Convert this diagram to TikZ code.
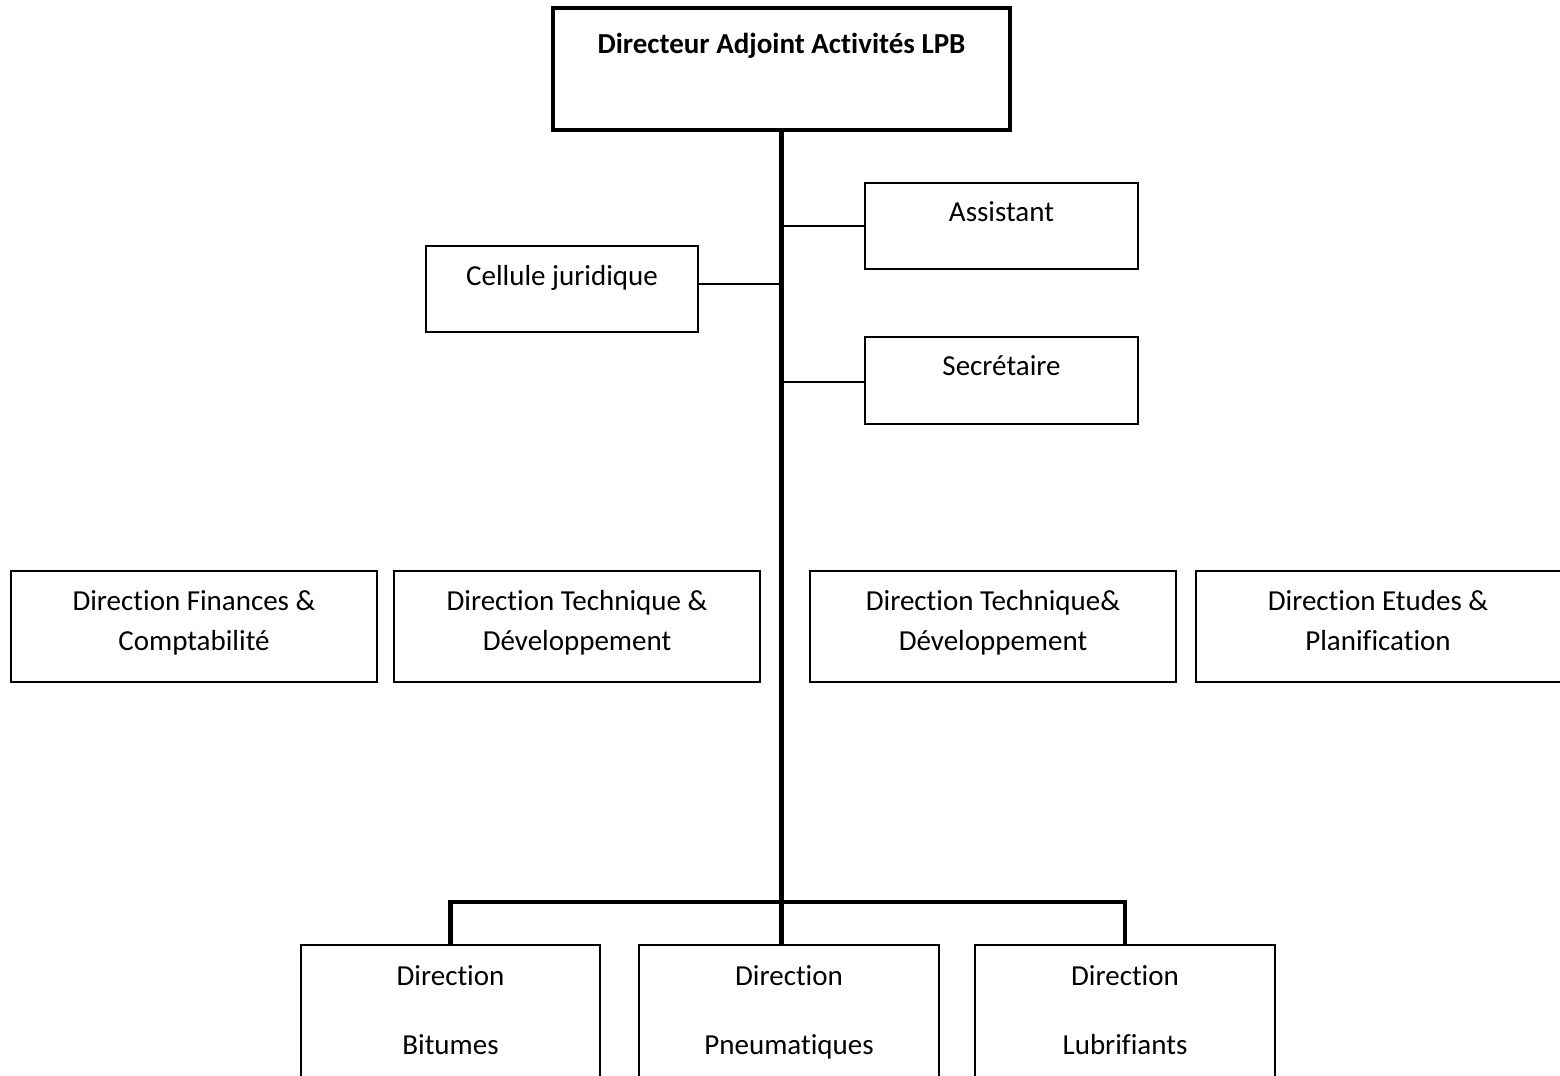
\documentclass[tikz,border=0pt]{standalone}
\usepackage{fontspec}
\setmainfont{Carlito}[Ligatures=NoCommon]
\usetikzlibrary{fit}
\begin{document}
\begin{tikzpicture}[x=0.02cm,y=-0.02cm,
  box/.style={draw, line width=1.1pt, inner sep=0pt, rectangle},
  headbox/.style={draw, line width=2.3pt, inner sep=0pt, rectangle},
  lbl/.style={inner sep=0pt, anchor=base, font=\fontsize{16.5}{20}\selectfont},
  headlbl/.style={inner sep=0pt, anchor=base, font=\fontsize{16.5}{20}\selectfont\bfseries},
  conn/.style={line width=1.1pt},
  trunk/.style={line width=2.3pt, line join=miter}]
\useasboundingbox (0,0) rectangle (1560,1076);
\clip (0,0) rectangle (1560,1076);
% head of the organisation
\node[headbox, fit={(553,8) (1010,130)}] (top) {};
\node[headlbl] (topT) at (top.north |- 0,53) {Directeur Adjoint Activités LPB};
% staff functions
\node[box, fit={(865,183) (1138,269)}] (asst) {};
\node[lbl] (asstT) at (asst.north |- 0,221) {Assistant};
\node[box, fit={(426,246) (698,332)}] (cel) {};
\node[lbl] (celT) at (cel.north |- 0,285) {Cellule juridique};
\node[box, fit={(865,337) (1138,424)}] (sec) {};
\node[lbl] (secT) at (sec.north |- 0,375) {Secrétaire};
% support directions
\node[box, fit={(11,571) (377,682)}] (fin) {};
\node[lbl] (finA) at (fin.north |- 0,610) {Direction Finances \&};
\node[lbl] (finB) at (fin.north |- 0,650) {Comptabilité};
\node[box, fit={(394,571) (760,682)}] (tec) {};
\node[lbl] (tecA) at (tec.north |- 0,610) {Direction Technique \&};
\node[lbl] (tecB) at (tec.north |- 0,650) {Développement};
\node[box, fit={(810,571) (1176,682)}] (tecd) {};
\node[lbl] (tecdA) at (tecd.north |- 0,610) {Direction Technique\&};
\node[lbl] (tecdB) at (tecd.north |- 0,650) {Développement};
\node[box, fit={(1196,571) (1564,682)}] (etu) {};
\node[lbl] (etuA) at (1378,610) {Direction Etudes \&};
\node[lbl] (etuB) at (1378,650) {Planification};
% operating directions
\node[box, fit={(301,945) (600,1100)}] (bit) {};
\node[lbl] (bitA) at (bit.north |- 0,985) {Direction};
\node[lbl] (bitB) at (bit.north |- 0,1054) {Bitumes};
\node[box, fit={(639,945) (939,1100)}] (pneu) {};
\node[lbl] (pneuA) at (pneu.north |- 0,985) {Direction};
\node[lbl] (pneuB) at (pneu.north |- 0,1054) {Pneumatiques};
\node[box, fit={(975,945) (1275,1100)}] (lub) {};
\node[lbl] (lubA) at (lub.north |- 0,985) {Direction};
\node[lbl] (lubB) at (lub.north |- 0,1054) {Lubrifiants};
% connectors
\coordinate (bar) at (781,902);
\draw[trunk] (top.south) -- (top.south |- pneu.north);
\draw[conn] (asst.west) -- (asst.west -| top.south);
\draw[conn] (cel.east |- 0,284) -- (top.south |- 0,284);
\draw[conn] (sec.west |- 0,382) -- (top.south |- 0,382);
\draw[trunk] (bit.north) -- (bit.north |- bar) -- (lub.north |- bar) -- (lub.north);
\end{tikzpicture}
\end{document}
